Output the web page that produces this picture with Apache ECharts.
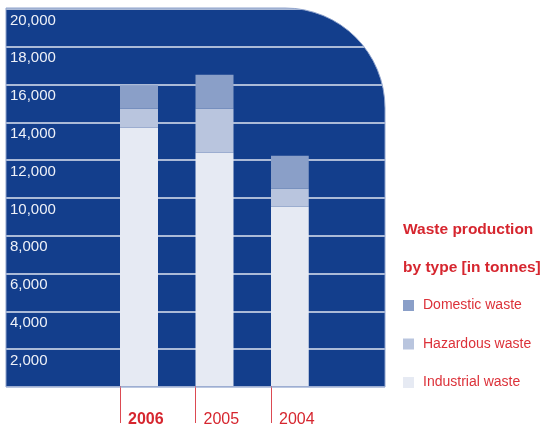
<!DOCTYPE html>
<html>
<head>
<meta charset="utf-8">
<script src="https://cdn.jsdelivr.net/npm/echarts@6/dist/echarts.min.js"></script>
<style>html,body{margin:0;padding:0;background:#fff;}#c{width:543px;height:428px;}</style>
</head>
<body>
<div id="c"></div>
<script>
const categories = ['2006', '2005', '2004'];
const industrial = [13700, 12380, 9520];
const hazardous = [1010, 2330, 960];
const domestic = [1240, 1800, 1740];
const yTicks = [0, 2000, 4000, 6000, 8000, 10000, 12000, 14000, 16000, 18000, 20000];
const legendNames = ['Domestic waste', 'Hazardous waste', 'Industrial waste'];
const titleLines = ['Waste production', 'by type [in tonnes]'];

const BLUE = '#133e8c';
const RED = '#d6262f';
const FONT = '"Liberation Sans", Arial, sans-serif';

const chart = echarts.init(document.getElementById('c'), null, {renderer: 'canvas'});

// plot frame geometry
const PL = 6, PT = 9, PW = 379, PH = 378, R = 100;

// white cover outside the rounded corner (frame decoration)
const cx = PL + PW - R, cy = PT - 1 + R;
const coverPts = [[PL + PW + 3, PT - 3]];
for (let k = 0; k <= 40; k++) {
  const a = -Math.PI / 2 + (Math.PI / 2) * (k / 40);
  coverPts.push([cx + (R + 0.3) * Math.cos(a), cy + (R + 0.3) * Math.sin(a)]);
}
coverPts.push([PL + PW + 3, cy]);
coverPts.splice(1, 0, [cx, PT - 3]);

const option = {
  animation: false,
  backgroundColor: '#fff',
  textStyle: {fontFamily: FONT},
  title: {
    text: titleLines.join('\n'),
    left: 403, top: 211,
    padding: 0,
    textStyle: {color: RED, fontSize: 15.5, fontWeight: 'bold', lineHeight: 38, fontFamily: FONT}
  },
  legend: {
    data: legendNames,
    orient: 'vertical',
    left: 403, top: 297.5,
    padding: 0,
    itemWidth: 11, itemHeight: 11,
    itemGap: 22.5,
    icon: 'rect',
    selectedMode: false,
    textStyle: {color: '#dc3139', fontSize: 14, lineHeight: 16, padding: [0, 0, 0, 4], fontFamily: FONT}
  },
  graphic: [
    {
      type: 'rect', z: -10, silent: true,
      shape: {x: PL, y: PT - 1, width: PW, height: PH + 1, r: [0, R, 0, 0]},
      style: {fill: BLUE}
    },
    {
      type: 'polygon', z: 100, silent: true,
      shape: {points: coverPts},
      style: {fill: '#fff'}
    },
    {
      type: 'rect', z: 101, silent: true,
      shape: {x: PL, y: PT - 1, width: PW, height: PH + 1, r: [0, R, 0, 0]},
      style: {fill: 'none', stroke: '#8fa3cc', lineWidth: 1}
    }
  ],
  grid: [
    {left: PL, top: PT, width: PW, height: PH, containLabel: false},
    {left: 82.25, top: PT, width: 226.5, height: PH, containLabel: false}
  ],
  xAxis: [
    {type: 'value', gridIndex: 0, show: false, min: 0, max: 1},
    {
      type: 'category', gridIndex: 1, data: categories,
      axisLine: {show: false},
      axisTick: {show: true, interval: 0, alignWithLabel: true, length: 37, lineStyle: {color: '#dc4a52', width: 1}},
      axisLabel: {
        interval: 0, hideOverlap: false,
        margin: 26, align: 'left', padding: [0, 0, 0, 8],
        fontSize: 16, color: RED, fontFamily: FONT,
        formatter: function (v, i) { return i === 0 ? '{b|' + v + '}' : v; },
        rich: {b: {fontWeight: 'bold', fontSize: 16, color: RED, fontFamily: FONT}}
      }
    }
  ],
  yAxis: [
    {
      type: 'value', gridIndex: 0, min: yTicks[0], max: yTicks[yTicks.length - 1], interval: yTicks[1] - yTicks[0],
      axisLine: {show: false}, axisTick: {show: false},
      splitLine: {show: true, lineStyle: {color: '#dfe5f1', width: 1.5}},
      axisLabel: {
        inside: true, margin: 4, verticalAlign: 'top', padding: [4, 0, 0, 0],
        color: '#eef1f8', fontSize: 15, fontFamily: FONT,
        formatter: function (v) { return v === 0 ? '' : v.toLocaleString('en-US'); }
      }
    },
    {type: 'value', gridIndex: 1, show: false, min: yTicks[0], max: yTicks[yTicks.length - 1]}
  ],
  series: [
    {name: 'spacer', type: 'bar', xAxisIndex: 1, yAxisIndex: 1, stack: 'spacer', data: categories.map(() => '-'), barWidth: 38, barGap: '0%'},
    {name: legendNames[2], type: 'bar', xAxisIndex: 1, yAxisIndex: 1, stack: 'total', data: industrial, barWidth: 38, barGap: '0%', itemStyle: {color: '#e6eaf3'}, z: 3},
    {name: legendNames[1], type: 'bar', xAxisIndex: 1, yAxisIndex: 1, stack: 'total', data: hazardous, barWidth: 38, barGap: '0%', itemStyle: {color: '#b9c5de'}, z: 3},
    {name: legendNames[0], type: 'bar', xAxisIndex: 1, yAxisIndex: 1, stack: 'total', data: domestic, barWidth: 38, barGap: '0%', itemStyle: {color: '#8a9fc8'}, z: 3}
  ]
};
chart.setOption(option);
</script>
</body>
</html>
